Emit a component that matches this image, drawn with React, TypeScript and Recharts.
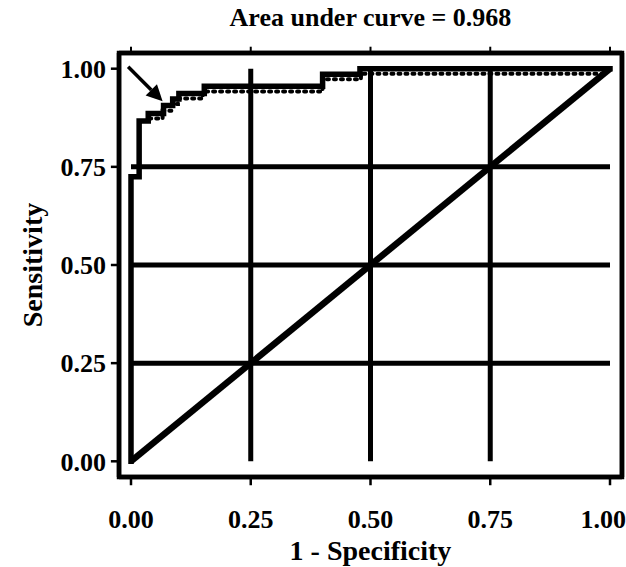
import React from 'react';
import { ComposedChart, Line, XAxis, YAxis, ReferenceLine } from 'recharts';

const tickValues = [0, 0.25, 0.5, 0.75, 1];
const gridValues = [0.25, 0.5, 0.75];

const rocCurve = [
  { x: 0, y: 0 },
  { x: 0, y: 0.725 },
  { x: 0.017, y: 0.725 },
  { x: 0.017, y: 0.867 },
  { x: 0.036, y: 0.867 },
  { x: 0.036, y: 0.886 },
  { x: 0.068, y: 0.886 },
  { x: 0.068, y: 0.906 },
  { x: 0.087, y: 0.906 },
  { x: 0.087, y: 0.923 },
  { x: 0.1, y: 0.923 },
  { x: 0.1, y: 0.937 },
  { x: 0.153, y: 0.937 },
  { x: 0.153, y: 0.955 },
  { x: 0.4, y: 0.955 },
  { x: 0.4, y: 0.986 },
  { x: 0.478, y: 0.986 },
  { x: 0.478, y: 1 },
  { x: 1, y: 1 },
];

const rocDotted = [
  { x: 0.038, y: 0.873 },
  { x: 0.066, y: 0.873 },
  { x: 0.066, y: 0.893 },
  { x: 0.085, y: 0.893 },
  { x: 0.085, y: 0.91 },
  { x: 0.098, y: 0.91 },
  { x: 0.098, y: 0.924 },
  { x: 0.15, y: 0.924 },
  { x: 0.15, y: 0.942 },
  { x: 0.4, y: 0.942 },
  { x: 0.4, y: 0.973 },
  { x: 0.48, y: 0.973 },
  { x: 0.48, y: 0.987 },
  { x: 0.99, y: 0.987 },
];

const chanceLine = [
  { x: 0, y: 0 },
  { x: 1, y: 1 },
];

const arrowFrom = { x: -0.006, y: 1.005 };
const arrowTo = { x: 0.066, y: 0.917 };

const xDomain = [-0.0501, 1.0334];
const yDomain = [-0.0731, 1.0731];
const frameX = [-0.025, 1.025];
const frameY = [-0.04, 1.04];

const TICK_OUT_X = 0.017;
const TICK_OUT_Y = 0.021;
const TICK_SMALL_X = 0.013;
const TICK_SMALL_Y = 0.016;

const FONT = '"Liberation Serif", "Times New Roman", serif';

const fmt = (v: number) => v.toFixed(2);

const ArrowShape = (props: any) => {
  const { x1, y1, x2, y2 } = props;
  const dx = x2 - x1;
  const dy = y2 - y1;
  const len = Math.sqrt(dx * dx + dy * dy) || 1;
  const ux = dx / len;
  const uy = dy / len;
  const headLen = 16;
  const headW = 8;
  const bx = x2 - ux * headLen;
  const by = y2 - uy * headLen;
  const px = -uy;
  const py = ux;
  return (
    <g>
      <line x1={x1} y1={y1} x2={bx} y2={by} stroke="#000" strokeWidth={3.5} />
      <polygon
        points={`${x2},${y2} ${bx + px * headW},${by + py * headW} ${bx - px * headW},${by - py * headW}`}
        fill="#000"
      />
    </g>
  );
};

// Draws the box from the scaled corners of the frame segment (diagonal of the frame)
const BoxShape = (props: any) => {
  const { x1, y1, x2, y2 } = props;
  const left = Math.min(x1, x2);
  const right = Math.max(x1, x2);
  const top = Math.min(y1, y2);
  const bottom = Math.max(y1, y2);
  return (
    <path
      d={`M${left},${top}H${right}V${bottom}H${left}Z`}
      fill="none"
      stroke="#000"
      strokeWidth={4.5}
    />
  );
};

const XLabelContent = (p: any) => {
  const vb = p.viewBox || { x: 107, y: 490, width: 519, height: 77 };
  const cx = vb.x + ((0.5 - xDomain[0]) / (xDomain[1] - xDomain[0])) * vb.width;
  return (
    <g>
      <text x={cx} y={vb.y + 70} textAnchor="middle" fontFamily={FONT} fontWeight="bold" fontSize={28} fill="#000">
        1 - Specificity
      </text>
      <text x={cx} y={26} textAnchor="middle" fontFamily={FONT} fontWeight="bold" fontSize={26} fill="#000">
        Area under curve = 0.968
      </text>
    </g>
  );
};

const YLabelContent = (p: any) => {
  const vb = p.viewBox || { x: 0, y: 40, width: 107, height: 450 };
  const cy = vb.y + vb.height / 2;
  return (
    <text
      x={32}
      y={cy}
      transform={`rotate(-90, 32, ${cy})`}
      textAnchor="middle"
      dominantBaseline="central"
      fontFamily={FONT}
      fontWeight="bold"
      fontSize={28}
      fill="#000"
    >
      Sensitivity
    </text>
  );
};

export default function App() {
  return (
    <div style={{ position: 'absolute', left: 0, top: 0, background: '#fff' }}>
      <ComposedChart width={626} height={567} margin={{ top: 40, right: 0, bottom: 0, left: 0 }}>
        <XAxis
          type="number"
          dataKey="x"
          domain={xDomain}
          ticks={tickValues}
          tickFormatter={fmt}
          height={77}
          axisLine={false}
          tickLine={false}
          tickSize={0}
          tickMargin={20}
          tick={{ fill: '#000', fontFamily: FONT, fontWeight: 'bold', fontSize: 26 }}
          label={{ content: XLabelContent }}
        />
        <YAxis
          type="number"
          domain={yDomain}
          ticks={tickValues}
          tickFormatter={fmt}
          width={107}
          axisLine={false}
          tickLine={false}
          tickSize={0}
          tickMargin={1}
          tick={{ fill: '#000', fontFamily: FONT, fontWeight: 'bold', fontSize: 26 }}
          label={{ content: YLabelContent }}
        />
        <ReferenceLine
          segment={[{ x: frameX[0], y: frameY[0] }, { x: frameX[1], y: frameY[1] }]}
          shape={BoxShape}
        />
        <Line
          data={[
            { x: frameX[0], y: frameY[0] },
            { x: frameX[0], y: frameY[1] },
          ]}
          dataKey="y"
          type="linear"
          stroke="#000"
          strokeWidth={4.5}
          dot={false}
          activeDot={false}
          isAnimationActive={false}
        />
        <Line
          data={[
            { x: frameX[1], y: frameY[0] },
            { x: frameX[1], y: frameY[1] },
          ]}
          dataKey="y"
          type="linear"
          stroke="#000"
          strokeWidth={4.5}
          dot={false}
          activeDot={false}
          isAnimationActive={false}
        />
        <Line
          data={[
            { x: frameX[0], y: frameY[1] },
            { x: frameX[1], y: frameY[1] },
          ]}
          dataKey="y"
          type="linear"
          stroke="#000"
          strokeWidth={4.5}
          dot={false}
          activeDot={false}
          isAnimationActive={false}
        />
        <Line
          data={[
            { x: frameX[0], y: frameY[0] },
            { x: frameX[1], y: frameY[0] },
          ]}
          dataKey="y"
          type="linear"
          stroke="#000"
          strokeWidth={4.5}
          dot={false}
          activeDot={false}
          isAnimationActive={false}
        />
        {tickValues.map((t) => (
          <ReferenceLine
            key={`b${t}`}
            segment={[{ x: t, y: frameY[0] }, { x: t, y: frameY[0] - TICK_OUT_Y }]}
            stroke="#000"
            strokeWidth={2.5}
          />
        ))}
        {tickValues.map((t) => (
          <ReferenceLine
            key={`l${t}`}
            segment={[{ x: frameX[0], y: t }, { x: frameX[0] - TICK_OUT_X, y: t }]}
            stroke="#000"
            strokeWidth={2.5}
          />
        ))}
        {tickValues.map((t) => (
          <ReferenceLine
            key={`t${t}`}
            segment={[{ x: t, y: frameY[1] }, { x: t, y: frameY[1] + TICK_SMALL_Y }]}
            stroke="#000"
            strokeWidth={2}
          />
        ))}
        {tickValues.map((t) => (
          <ReferenceLine
            key={`r${t}`}
            segment={[{ x: frameX[1], y: t }, { x: frameX[1] + TICK_SMALL_X, y: t }]}
            stroke="#000"
            strokeWidth={2}
          />
        ))}
        {gridValues.map((g) => (
          <ReferenceLine key={`v${g}`} segment={[{ x: g, y: 0 }, { x: g, y: 1 }]} stroke="#000" strokeWidth={5} />
        ))}
        {gridValues.map((g) => (
          <ReferenceLine key={`h${g}`} segment={[{ x: 0, y: g }, { x: 1, y: g }]} stroke="#000" strokeWidth={5} />
        ))}
        <Line
          data={chanceLine}
          dataKey="y"
          type="linear"
          stroke="#000"
          strokeWidth={6.5}
          dot={false}
          activeDot={false}
          isAnimationActive={false}
        />
        <Line
          data={rocDotted}
          dataKey="y"
          type="linear"
          stroke="#000"
          strokeWidth={4}
          strokeDasharray="2 5"
          strokeLinecap="round"
          dot={false}
          activeDot={false}
          isAnimationActive={false}
        />
        <Line
          data={rocCurve}
          dataKey="y"
          type="linear"
          stroke="#000"
          strokeWidth={5.5}
          strokeLinejoin="miter"
          strokeLinecap="square"
          dot={false}
          activeDot={false}
          isAnimationActive={false}
        />
        <ReferenceLine segment={[arrowFrom, arrowTo]} ifOverflow="visible" shape={ArrowShape} />
      </ComposedChart>
    </div>
  );
}
